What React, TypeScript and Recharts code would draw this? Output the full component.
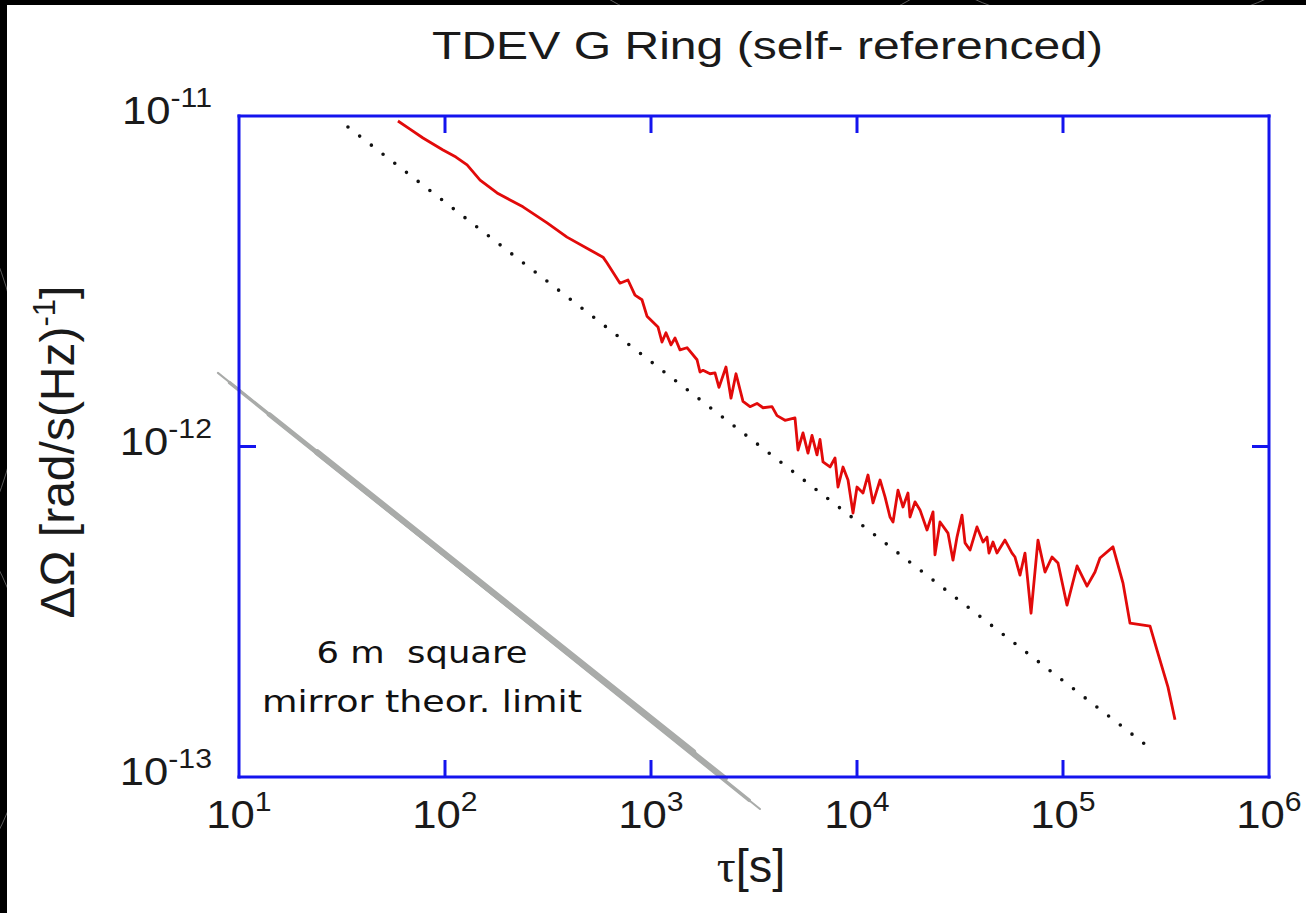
import React from 'react';
import { LineChart, Line, XAxis, YAxis } from 'recharts';

// TDEV of the G ring rotation-rate signal, tau [s] vs delta Omega [rad/s/sqrt(Hz)]
const tdevTau = [
  59.1, 67.6, 78.2, 97.8, 113, 128, 148, 179, 207, 239,
  313, 391, 506, 585, 612, 707, 773, 836, 904, 956,
  1081, 1131, 1182, 1251, 1308, 1383, 1496, 1673, 1729, 1788,
  1934, 2045, 2138, 2312, 2445, 2586, 2796, 3024, 3270, 3498,
  3868, 4090, 4473, 5000, 5171, 5468, 5782, 6046, 6394, 6612,
  6839, 7396, 7821, 8088, 8551, 9045, 9563, 10000, 10690, 11310,
  11960, 12940, 13680, 14460, 14960, 15810, 16720, 17680, 18080, 19120,
  20220, 21870, 23390, 23910, 25290, 27650, 29240, 30580, 32340, 33450,
  35370, 38240, 40900, 42760, 43730, 45720, 47810, 52290, 56550, 58480,
  61840, 65390, 69960, 75600, 81760, 88430, 94560, 104600, 117000, 130800,
  143000, 151200, 174800, 195600, 211500, 264500, 286000, 323300, 349700,
];
const tdevValue = [
  9.66e-12, 9.13e-12, 8.58e-12, 7.89e-12, 7.51e-12, 7.11e-12, 6.4e-12, 5.85e-12, 5.57e-12, 5.31e-12,
  4.75e-12, 4.3e-12, 3.93e-12, 3.74e-12, 3.59e-12, 3.12e-12, 3.19e-12, 2.87e-12, 2.78e-12, 2.48e-12,
  2.3e-12, 2.07e-12, 2.21e-12, 2.03e-12, 2.13e-12, 1.96e-12, 1.99e-12, 1.83e-12, 1.68e-12, 1.7e-12,
  1.66e-12, 1.67e-12, 1.51e-12, 1.74e-12, 1.4e-12, 1.66e-12, 1.37e-12, 1.32e-12, 1.35e-12, 1.31e-12,
  1.32e-12, 1.24e-12, 1.2e-12, 1.22e-12, 9.76e-13, 1.1e-12, 9.55e-13, 1.08e-12, 9.43e-13, 1.05e-12,
  8.98e-13, 8.67e-13, 9.23e-13, 7.54e-13, 8.67e-13, 7.92e-13, 6.29e-13, 7.54e-13, 7.23e-13, 8.2e-13,
  6.75e-13, 7.92e-13, 7.04e-13, 6.12e-13, 5.91e-13, 7.38e-13, 6.56e-13, 7.23e-13, 6.12e-13, 6.8e-13,
  6.43e-13, 5.59e-13, 6.34e-13, 4.7e-13, 5.91e-13, 5.47e-13, 4.53e-13, 5.32e-13, 6.2e-13, 5.11e-13,
  4.86e-13, 5.71e-13, 5.14e-13, 5.32e-13, 4.76e-13, 5.14e-13, 4.76e-13, 5.21e-13, 4.76e-13, 4.63e-13,
  4.08e-13, 4.76e-13, 3.13e-13, 5.21e-13, 4.17e-13, 4.63e-13, 4.44e-13, 3.31e-13, 4.35e-13, 3.78e-13,
  4.17e-13, 4.6e-13, 4.97e-13, 3.86e-13, 2.92e-13, 2.86e-13, 2.42e-13, 1.87e-13, 1.49e-13,
];

// tau^-1/2 guide line
const fitTau = [33.8, 280000];
const fitValue = [9.26e-12, 1.19e-13];

// 6 m square mirror theoretical limit; a band that is thin at its ends and widest mid-way.
// Each layer spans a shorter tau range and is stroked wider.
const limitTau = [7.9, 3380];
const limitValue = [1.67e-12, 8.0e-14];
const limitLayerTau = [
  [9, 3000],
  [14, 2300],
  [24, 1600],
];
const limitLayerValue = [
  [1.56e-12, 8.5e-14],
  [1.25e-12, 9.9e-14],
  [9.6e-13, 1.19e-13],
];
const limitLayerWidth = [3.4, 4.8, 6.2];

const xTicks = [10, 100, 1000, 10000, 100000, 1000000];
const xTickExponents = ['1', '2', '3', '4', '5', '6'];
const yTicks = [1e-13, 1e-12, 1e-11];
const yTickExponents = ['-13', '-12', '-11'];

const zip = (t: number[], v: number[]) => t.map((tau, i) => ({ t: tau, v: v[i] }));
const tdevData = zip(tdevTau, tdevValue);
const fitData = zip(fitTau, fitValue);
const limitData = zip(limitTau, limitValue);
const limitLayers = limitLayerTau.map((t, i) => zip(t, limitLayerValue[i]));

const BLUE = '#1414ee';
const BAND = '#a9aba9';
const TICK_LEN = 17;
const SANS = '"Liberation Sans", Arial, Helvetica, sans-serif';
const TEXT = '#1a1a1a';

const indexOfTick = (ticks: number[], value: number) => {
  let best = 0;
  ticks.forEach((t, i) => {
    if (Math.abs(Math.log10(t) - Math.log10(value)) < Math.abs(Math.log10(ticks[best]) - Math.log10(value))) best = i;
  });
  return best;
};

function PowerText({ x, y, exp, anchor }: { x: number; y: number; exp: string; anchor: 'start' | 'middle' | 'end' }) {
  return (
    <text
      transform={`translate(${x},${y}) scale(1.12,1)`}
      textAnchor={anchor}
      fontFamily={SANS}
      fontSize={39}
      fill={TEXT}
    >
      10
      <tspan dy={-17} fontSize={27}>
        {exp}
      </tspan>
    </text>
  );
}

const BottomTick = (props: any) => {
  const { x, y, payload } = props;
  const i = indexOfTick(xTicks, payload.value);
  const inner = i > 0 && i < xTicks.length - 1;
  return (
    <g>
      {inner && <line x1={x} x2={x} y1={y} y2={y - TICK_LEN} stroke={BLUE} strokeWidth={3} />}
      <PowerText x={x} y={y + 51} exp={xTickExponents[i]} anchor="middle" />
    </g>
  );
};

const TopTick = (props: any) => {
  const { x, y, payload } = props;
  const i = indexOfTick(xTicks, payload.value);
  const inner = i > 0 && i < xTicks.length - 1;
  return <g>{inner && <line x1={x} x2={x} y1={y} y2={y + TICK_LEN} stroke={BLUE} strokeWidth={3} />}</g>;
};

const LeftTick = (props: any) => {
  const { x, y, payload } = props;
  const i = indexOfTick(yTicks, payload.value);
  const inner = i > 0 && i < yTicks.length - 1;
  return (
    <g>
      {inner && <line x1={x} x2={x + TICK_LEN} y1={y} y2={y} stroke={BLUE} strokeWidth={3} />}
      <PowerText x={x - 27} y={y + 8} exp={yTickExponents[i]} anchor="end" />
    </g>
  );
};

const RightTick = (props: any) => {
  const { x, y, payload } = props;
  const i = indexOfTick(yTicks, payload.value);
  const inner = i > 0 && i < yTicks.length - 1;
  return <g>{inner && <line x1={x} x2={x - TICK_LEN} y1={y} y2={y} stroke={BLUE} strokeWidth={3} />}</g>;
};

const frameLine = { stroke: BLUE, strokeWidth: 3, strokeLinecap: 'square' as const };

export default function App() {
  return (
    <div style={{ position: 'absolute', left: 0, top: 0, width: 1306, height: 913, background: '#000', overflow: 'hidden' }}>
      <style>{`.limit-band, .limit-band * { clip-path: none !important; }`}</style>
      <svg width={1306} height={913} style={{ position: 'absolute', left: 0, top: 0 }}>
        <g fill="none" stroke="#5c5c5c" strokeWidth={1}>
          <circle cx={760} cy={-260} r={300} />
          <circle cx={1120} cy={-330} r={360} />
          <circle cx={-300} cy={380} r={320} />
          <circle cx={-260} cy={700} r={290} />
        </g>
      </svg>
      <div style={{ position: 'absolute', left: 7, top: 5, width: 1299, height: 908, background: '#fff' }} />
      <div style={{ position: 'absolute', left: 0, top: 0 }}>
        <LineChart width={1306} height={913} margin={{ top: 115, right: 36, bottom: 0, left: 0 }}>
          <XAxis
            dataKey="t"
            type="number"
            scale="log"
            domain={[10, 1000000]}
            allowDataOverflow
            ticks={xTicks}
            height={136}
            tickSize={0}
            tickMargin={0}
            tickLine={false}
            axisLine={frameLine}
            tick={<BottomTick />}
            interval={0}
          />
          <XAxis
            xAxisId="top"
            dataKey="t"
            type="number"
            scale="log"
            domain={[10, 1000000]}
            allowDataOverflow
            orientation="top"
            ticks={xTicks}
            height={1}
            tickSize={0}
            tickMargin={0}
            tickLine={false}
            axisLine={frameLine}
            tick={<TopTick />}
            interval={0}
          />
          <YAxis
            dataKey="v"
            type="number"
            scale="log"
            domain={[1e-13, 1e-11]}
            allowDataOverflow
            ticks={yTicks}
            width={239}
            tickSize={0}
            tickMargin={0}
            tickLine={false}
            axisLine={frameLine}
            tick={<LeftTick />}
            interval={0}
          />
          <YAxis
            yAxisId="right"
            orientation="right"
            dataKey="v"
            type="number"
            scale="log"
            domain={[1e-13, 1e-11]}
            allowDataOverflow
            ticks={yTicks}
            width={1}
            tickSize={0}
            tickMargin={0}
            tickLine={false}
            axisLine={frameLine}
            tick={<RightTick />}
            interval={0}
          />
          <Line
            data={limitData}
            dataKey="v"
            className="limit-band"
            type="linear"
            stroke={BAND}
            strokeWidth={2}
            strokeLinecap="round"
            dot={false}
            isAnimationActive={false}
          />
          {limitLayers.map((layer, i) => (
            <Line
              key={`band-${i}`}
              data={layer}
              dataKey="v"
              className="limit-band"
              type="linear"
              stroke={BAND}
              strokeWidth={limitLayerWidth[i]}
              strokeLinecap="round"
              dot={false}
              isAnimationActive={false}
            />
          ))}
          <Line
            data={fitData}
            dataKey="v"
            type="linear"
            stroke="#111"
            strokeWidth={3.6}
            strokeLinecap="round"
            strokeDasharray="0 14.8"
            dot={false}
            isAnimationActive={false}
          />
          <Line
            data={tdevData}
            dataKey="v"
            type="linear"
            stroke="#e20a0a"
            strokeWidth={2.8}
            strokeLinejoin="round"
            dot={false}
            isAnimationActive={false}
          />
        </LineChart>
      </div>
      <svg width={1306} height={913} style={{ position: 'absolute', left: 0, top: 0, pointerEvents: 'none' }}>
        <text x={432} y={59} fontFamily={SANS} fontSize={39} fill={TEXT} textLength={671} lengthAdjust="spacingAndGlyphs">
          TDEV G Ring (self- referenced)
        </text>
        <text
          transform="translate(74,452) rotate(-90)"
          textAnchor="middle"
          fontFamily={SANS}
          fontSize={48}
          fill={TEXT}
        >
          ΔΩ [rad/s(Hz)
          <tspan dy={-19} fontSize={31}>
            -1
          </tspan>
          <tspan dy={19}>]</tspan>
        </text>
        <text x={751} y={882} textAnchor="middle" fontSize={47} fill={TEXT}>
          <tspan fontFamily='"Liberation Serif", "DejaVu Serif", serif'>τ</tspan>
          <tspan fontFamily={SANS}>[s]</tspan>
        </text>
        <g fontFamily='"DejaVu Sans", "Noto Sans", sans-serif' fontSize={30} fill="#111" textAnchor="middle">
          <text x={422} y={663} style={{ whiteSpace: 'pre' }} textLength={211} lengthAdjust="spacingAndGlyphs">
            {'6 m  square'}
          </text>
          <text x={422} y={712} textLength={320} lengthAdjust="spacingAndGlyphs">
            mirror theor. limit
          </text>
        </g>
      </svg>
    </div>
  );
}
